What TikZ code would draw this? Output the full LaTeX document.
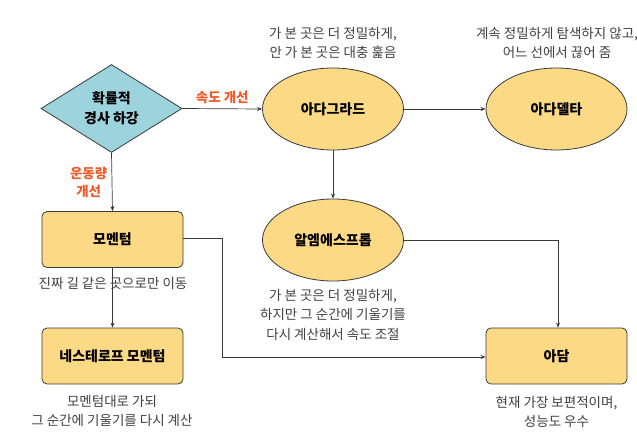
\documentclass[tikz,border=0pt]{standalone}
\usepackage{fontspec}
\setmainfont{Noto Sans CJK KR}
\usetikzlibrary{shapes.geometric,arrows.meta}
\definecolor{boxfill}{HTML}{FCD985}
\definecolor{diafill}{HTML}{9DD3DC}
\definecolor{edge}{HTML}{3A3A3A}
\definecolor{lbl}{HTML}{EE5A2A}
\definecolor{desc}{HTML}{404040}
\tikzset{
  every node/.style={font=\fontsize{13.5}{19}\selectfont},
  box/.style={draw=edge, line width=0.8pt, fill=boxfill, rounded corners=5pt, minimum width=141pt, minimum height=56pt, font=\fontsize{14}{19}\selectfont\bfseries},
  oval/.style={draw=edge, line width=0.8pt, fill=boxfill, ellipse, minimum width=141pt, minimum height=82pt, inner sep=0pt, font=\fontsize{14}{19}\selectfont\bfseries},
  dia/.style={draw=edge, line width=0.8pt, fill=diafill, diamond, minimum width=141pt, minimum height=85pt, inner sep=0pt, align=center, font=\fontsize{14}{20}\selectfont\bfseries},
  note/.style={text=desc, align=center, font=\fontsize{13.5}{19.5}\selectfont},
  elab/.style={text=lbl, align=center, font=\fontsize{13.5}{18}\selectfont\bfseries},
  conn/.style={draw=edge, line width=0.7pt, -{Stealth[length=5pt,width=4pt]}}
}
\begin{document}
\begin{tikzpicture}[x=1pt,y=-1pt]
\useasboundingbox (0,0) rectangle (637,441);
\node[dia] (sgd) at (111.5,108.5) {확률적\\경사 하강};
\node[oval] (adagrad) at (333,109) {아다그라드};
\node[oval] (adadelta) at (556.5,109) {아다델타};
\node[oval] (rms) at (333,240) {알엠에스프롭};
\node[box] (mom) at (112.5,239.5) {모멘텀};
\node[box] (nag) at (112.5,356) {네스테로프 모멘텀};
\node[box] (adam) at (556.5,356) {아담};

\node[note] (t1) at (333,43) {가 본 곳은 더 정밀하게,\\안 가 본 곳은 대충 훑음};
\node[note] (t2) at (557,43) {계속 정밀하게 탐색하지 않고,\\어느 선에서 끊어 줌};
\node[note] (t3) at (333,314.5) {가 본 곳은 더 정밀하게,\\하지만 그 순간에 기울기를\\다시 계산해서 속도 조절};
\node[note] (t4) at (556.5,412) {현재 가장 보편적이며,\\성능도 우수};
\node[note] (t5) at (113,283.5) {진짜 길 같은 곳으로만 이동};
\node[note] (t6) at (112,411) {모멘텀대로 가되\\그 순간에 기울기를 다시 계산};

\coordinate (c1) at (222,238.5);
\coordinate (c2) at (222,357);
\coordinate (c3) at (558,240);

\draw[conn] (sgd.east) -- node[elab, above, pos=0.5, yshift=1pt] {속도 개선} (adagrad.west);
\draw[conn] (sgd.south) -- node[elab, left, xshift=-1pt] {운동량\\개선} (mom.north);
\draw[conn] (adagrad.east) -- (adadelta.west);
\draw[conn] (adagrad.south) -- (rms.north);
\draw[conn] (mom.south) -- (nag.north);
\draw[conn] (mom.east |- c1) -- (c1) -- (c2) -- (adam.west |- c2);
\draw[conn] (rms.east) -- (c3) -- (adam.north -| c3);
\end{tikzpicture}
\end{document}
